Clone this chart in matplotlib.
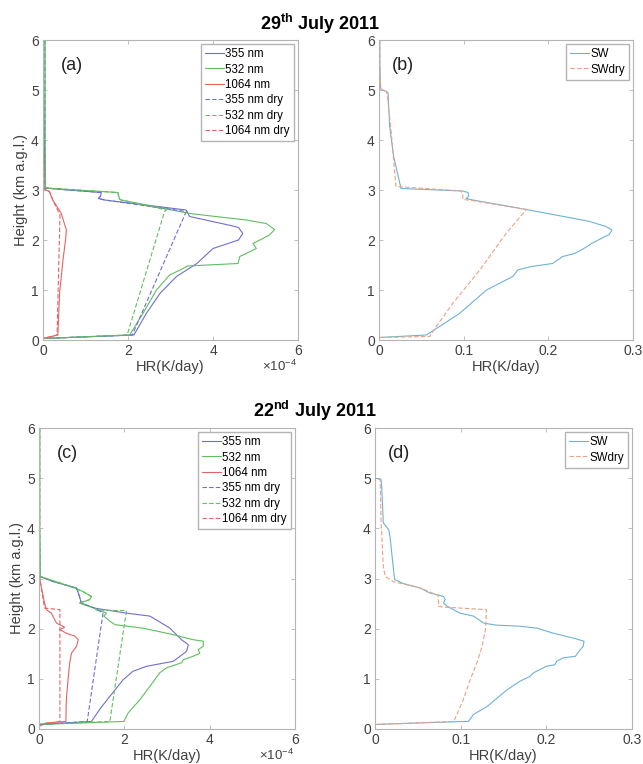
import matplotlib
matplotlib.use('Agg')
import matplotlib.pyplot as plt
from matplotlib.ticker import FuncFormatter

plt.rcParams['font.family'] = ['Liberation Sans', 'DejaVu Sans']
plt.rcParams['mathtext.fontset'] = 'custom'
plt.rcParams['mathtext.rm'] = 'Liberation Sans'
plt.rcParams['mathtext.bf'] = 'Liberation Sans:bold'
plt.rcParams['mathtext.it'] = 'Liberation Sans:italic'

# ── data: 29 July 2011, spectral HR (x1e-4 K/day) ─────────────────────────────
a355_h = [6.0, 5.0, 4.0, 3.04, 3.0, 2.95, 2.87, 2.83, 2.8, 2.6, 2.47, 2.28, 2.25,
          2.13, 2.0, 1.83, 1.53, 1.27, 0.93, 0.53, 0.1, 0.03]
a355_x = [0.02, 0.02, 0.03, 0.05, 0.6, 1.37, 1.35, 1.30, 1.45, 3.37, 3.45, 4.47, 4.6,
          4.7, 4.6, 4.0, 3.62, 3.14, 2.75, 2.43, 2.14, 0.0]
a532_h = [6.0, 5.0, 4.0, 3.04, 3.0, 2.95, 2.82, 2.8, 2.53, 2.4, 2.33, 2.21, 2.1,
          1.93, 1.83, 1.73, 1.67, 1.53, 1.48, 1.41, 1.3, 1.0, 0.53, 0.1, 0.03]
a532_x = [0.05, 0.05, 0.05, 0.06, 0.8, 1.76, 1.8, 1.84, 3.45, 4.78, 5.25, 5.45, 5.33,
          4.94, 5.02, 4.78, 4.63, 4.59, 3.4, 3.25, 2.98, 2.67, 2.35, 2.04, 0.0]
a1064_h = [6.0, 5.0, 4.0, 3.02, 2.97, 2.8, 2.53, 2.2, 2.0, 1.6, 0.93, 0.1, 0.03]
a1064_x = [0.01, 0.01, 0.01, 0.02, 0.15, 0.23, 0.43, 0.55, 0.53, 0.47, 0.39, 0.35, 0.0]
a355dry_h = [6.0, 5.0, 4.0, 3.04, 3.0, 2.95, 2.87, 2.83, 2.8, 2.57, 0.1, 0.03]
a355dry_x = [0.02, 0.02, 0.03, 0.05, 0.6, 1.37, 1.35, 1.30, 1.45, 3.37, 2.1, 0.0]
a532dry_h = [6.0, 5.0, 4.0, 3.04, 3.0, 2.95, 2.82, 2.8, 2.6, 2.57, 0.1, 0.03]
a532dry_x = [0.05, 0.05, 0.05, 0.06, 0.8, 1.76, 1.8, 1.84, 2.9, 2.86, 1.98, 0.0]
a1064dry_h = [6.0, 5.0, 4.0, 3.02, 2.97, 2.8, 2.5, 0.1, 0.03]
a1064dry_x = [0.01, 0.01, 0.01, 0.02, 0.15, 0.23, 0.40, 0.33, 0.0]

# ── data: 29 July 2011, SW HR (K/day) ─────────────────────────────────────────
b_sw_h = [6.0, 5.5, 5.02, 4.95, 4.27, 3.67, 3.03, 2.98, 2.95, 2.88, 2.83, 2.8,
          2.61, 2.41, 2.37, 2.27, 2.2, 2.11, 2.07, 1.93, 1.85, 1.73, 1.67, 1.53,
          1.47, 1.4, 1.27, 1.0, 0.53, 0.1, 0.05]
b_sw_x = [0.001, 0.001, 0.002, 0.0106, 0.0126, 0.0173, 0.026, 0.099, 0.105, 0.106,
          0.103, 0.111, 0.174, 0.237, 0.249, 0.268, 0.275, 0.272, 0.267, 0.251,
          0.244, 0.231, 0.217, 0.205, 0.18, 0.164, 0.158, 0.127, 0.095, 0.056, 0.0]
b_dry_h = [6.0, 5.5, 5.02, 4.97, 4.87, 4.13, 3.07, 2.98, 2.9, 2.81, 2.8, 2.61,
           2.13, 1.4, 0.73, 0.23, 0.07, 0.05]
b_dry_x = [0.001, 0.001, 0.002, 0.0087, 0.01, 0.0146, 0.02, 0.097, 0.099, 0.099,
           0.106, 0.174, 0.15, 0.119, 0.087, 0.066, 0.06, 0.0]

# ── data: 22 July 2011, spectral HR (x1e-4 K/day) ─────────────────────────────
c355_h = [6.0, 5.0, 4.0, 3.04, 2.94, 2.81, 2.64, 2.51, 2.41, 2.31, 2.25, 2.01,
          1.78, 1.68, 1.55, 1.35, 1.25, 1.15, 0.98, 0.65, 0.39, 0.15, 0.09]
c355_x = [0.01, 0.01, 0.01, 0.02, 0.33, 0.88, 0.95, 0.99, 1.3, 2.05, 2.6, 3.07,
          3.34, 3.5, 3.46, 3.15, 2.52, 2.2, 1.97, 1.66, 1.42, 1.23, 0.0]
c532_h = [6.0, 5.0, 4.0, 3.04, 2.91, 2.81, 2.74, 2.64, 2.58, 2.51, 2.41, 2.35,
          2.31, 2.25, 2.15, 2.08, 2.01, 1.88, 1.78, 1.75, 1.65, 1.58, 1.51, 1.45,
          1.38, 1.32, 1.22, 1.12, 0.85, 0.58, 0.32, 0.15, 0.09]
c532_x = [0.02, 0.02, 0.02, 0.03, 0.49, 0.84, 1.03, 1.23, 1.19, 0.95, 1.3, 1.46,
          1.58, 1.52, 1.66, 1.78, 2.44, 3.15, 3.61, 3.85, 3.85, 3.73, 3.77, 3.61,
          3.38, 3.34, 2.99, 2.83, 2.6, 2.36, 2.09, 1.99, 0.0]
c1064_h = [6.0, 5.0, 4.0, 3.04, 2.84, 2.51, 2.38, 2.31, 2.11, 2.03, 1.98, 1.91,
           1.85, 1.78, 1.65, 1.51, 1.32, 0.98, 0.58, 0.15, 0.12, 0.05]
c1064_x = [0.01, 0.01, 0.01, 0.01, 0.05, 0.13, 0.17, 0.29, 0.41, 0.6, 0.49, 0.64,
           0.84, 0.92, 0.88, 0.76, 0.72, 0.68, 0.64, 0.63, 0.17, 0.0]
c355dry_h = [6.0, 5.0, 4.0, 3.04, 2.94, 2.81, 2.64, 2.51, 2.41, 2.31, 0.15, 0.09]
c355dry_x = [0.01, 0.01, 0.01, 0.02, 0.33, 0.88, 0.95, 0.99, 1.3, 1.5, 1.13, 0.0]
c532dry_h = [6.0, 5.0, 4.0, 3.04, 2.91, 2.81, 2.74, 2.64, 2.58, 2.51, 2.41, 2.37,
             2.36, 0.15, 0.09]
c532dry_x = [0.02, 0.02, 0.02, 0.03, 0.49, 0.84, 1.03, 1.23, 1.19, 0.95, 1.3, 1.35,
             2.05, 1.66, 0.0]
c1064dry_h = [6.0, 5.0, 4.0, 3.04, 2.84, 2.41, 2.38, 0.15, 0.09]
c1064dry_x = [0.01, 0.01, 0.01, 0.01, 0.05, 0.13, 0.49, 0.49, 0.0]

# ── data: 22 July 2011, SW HR (K/day) ─────────────────────────────────────────
d_sw_h = [6.0, 5.0, 4.98, 4.84, 4.11, 3.97, 3.84, 3.11, 2.98, 2.9, 2.81, 2.71,
          2.68, 2.64, 2.58, 2.51, 2.45, 2.31, 2.25, 2.11, 2.07, 2.05, 2.01, 1.91,
          1.81, 1.75, 1.65, 1.55, 1.45, 1.42, 1.35, 1.28, 1.25, 1.12, 1.05, 0.95,
          0.78, 0.45, 0.29, 0.15, 0.15, 0.09]
d_sw_x = [0.0, 0.0, 0.007, 0.0078, 0.0097, 0.016, 0.0175, 0.022, 0.023, 0.033,
          0.053, 0.064, 0.072, 0.08, 0.082, 0.08, 0.084, 0.099, 0.115, 0.127, 0.142,
          0.169, 0.189, 0.208, 0.232, 0.244, 0.243, 0.238, 0.234, 0.22, 0.212, 0.21,
          0.2, 0.185, 0.181, 0.169, 0.154, 0.131, 0.115, 0.109, 0.103, 0.0]
d_dry_h = [6.0, 5.0, 4.97, 4.17, 3.24, 3.04, 2.94, 2.81, 2.66, 2.45, 2.43, 2.38,
           2.31, 1.98, 1.65, 1.32, 0.98, 0.58, 0.15, 0.09]
d_dry_x = [0.0, 0.0, 0.006, 0.007, 0.0097, 0.012, 0.021, 0.053, 0.074, 0.074, 0.08,
           0.13, 0.13, 0.129, 0.125, 0.119, 0.111, 0.103, 0.092, 0.0]

spec_labels = ['355 nm', '532 nm', '1064 nm', '355 nm dry', '532 nm dry', '1064 nm dry']
sw_labels = ['SW', 'SWdry']

# ── palette ───────────────────────────────────────────────────────────────────
C355 = '#6f6fd2'; C532 = '#5fbf5f'; C1064 = '#e26464'
CSW = '#6db3d6'; CDRY = '#f0a080'
EDGE = '#b4b4b4'; TICK = '#404040'
DASH = (0, (4, 2))

fig = plt.figure(figsize=(6.43, 7.64), dpi=100)
fig.patch.set_facecolor('white')

def style(ax, xmax, xticks, sci=False, ylabel=True):
    ax.set_xlim(0, xmax)
    ax.set_ylim(0, 6)
    ax.set_xticks(xticks)
    ax.set_yticks(range(7))
    ax.tick_params(direction='in', length=3, width=0.6, colors=EDGE,
                   labelcolor=TICK, labelsize=10, top=True, right=True, pad=3)
    for s in ax.spines.values():
        s.set_color(EDGE)
        s.set_linewidth(0.8)
    if sci:
        # tick labels in units of 1e-4, multiplier written below like MATLAB
        ax.xaxis.set_major_formatter(FuncFormatter(lambda v, p: '%g' % round(v * 1e4, 6)))
        ax.text(0.995, -0.064, r'$\times10^{-4}$', transform=ax.transAxes,
                ha='right', va='top', fontsize=9.5, color=TICK)
    ax.set_xlabel('HR(K/day)', fontsize=10.5, color=TICK, labelpad=1)
    if ylabel:
        ax.set_ylabel('Height (km a.g.l.)', fontsize=10.5, color=TICK, labelpad=2)

def add_legend(ax, labels):
    ax.legend(labels, loc='upper right', fontsize=8.3, handlelength=1.6,
              handletextpad=0.15, labelspacing=0.3, borderpad=0.35,
              borderaxespad=0.35, frameon=True, fancybox=False,
              edgecolor=EDGE, framealpha=1)

def spectral(ax, wet, dry, tag, lx):
    cols = [C355, C532, C1064]
    for (x, h), c in zip(wet, cols):
        ax.plot([v * 1e-4 for v in x], h, color=c, lw=0.8)
    for (x, h), c in zip(dry, cols):
        ax.plot([v * 1e-4 for v in x], h, color=c, lw=0.8, ls=DASH)
    style(ax, 6e-4, [0, 2e-4, 4e-4, 6e-4], sci=True)
    add_legend(ax, spec_labels)
    ax.text(lx, 0.915, tag, transform=ax.transAxes, fontsize=13,
            ha='left', va='center', color='#222')

def shortwave(ax, sw, dry, tag, lx):
    ax.plot(sw[0], sw[1], color=CSW, lw=0.8)
    ax.plot(dry[0], dry[1], color=CDRY, lw=0.8, ls=DASH)
    style(ax, 0.3, [0, 0.1, 0.2, 0.3], ylabel=False)
    ax.set_xticklabels(['0', '0.1', '0.2', '0.3'])
    add_legend(ax, sw_labels)
    ax.text(lx, 0.915, tag, transform=ax.transAxes, fontsize=13,
            ha='left', va='center', color='#222')

W, H = 643.0, 764.0
ax_a = fig.add_axes([43 / W, 1 - 340 / H, 255 / W, 300 / H])
ax_b = fig.add_axes([379 / W, 1 - 340 / H, 254 / W, 300 / H])
ax_c = fig.add_axes([39 / W, 1 - 729 / H, 256 / W, 301 / H])
ax_d = fig.add_axes([375 / W, 1 - 729 / H, 257 / W, 301 / H])

spectral(ax_a,
         [(a355_x, a355_h), (a532_x, a532_h), (a1064_x, a1064_h)],
         [(a355dry_x, a355dry_h), (a532dry_x, a532dry_h), (a1064dry_x, a1064dry_h)],
         '(a)', 0.07)
shortwave(ax_b, (b_sw_x, b_sw_h), (b_dry_x, b_dry_h), '(b)', 0.05)
spectral(ax_c,
         [(c355_x, c355_h), (c532_x, c532_h), (c1064_x, c1064_h)],
         [(c355dry_x, c355dry_h), (c532dry_x, c532dry_h), (c1064dry_x, c1064dry_h)],
         '(c)', 0.07)
shortwave(ax_d, (d_sw_x, d_sw_h), (d_dry_x, d_dry_h), '(d)', 0.05)

fig.text(320 / W, 1 - 24 / H, r'29$^{\mathbf{th}}$ July 2011', fontsize=13,
         fontweight='bold', ha='center', va='center')
fig.text(315 / W, 1 - 411 / H, r'22$^{\mathbf{nd}}$ July 2011', fontsize=13,
         fontweight='bold', ha='center', va='center')

fig.savefig('out.png', dpi=100, facecolor='white')
